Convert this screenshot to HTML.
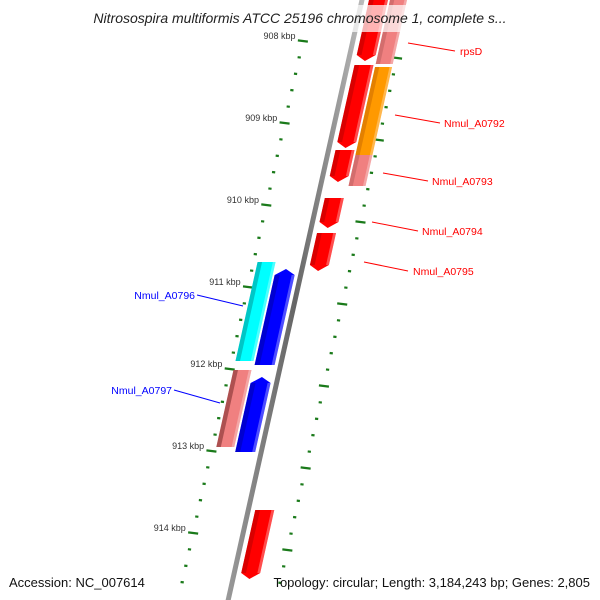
<!DOCTYPE html>
<html><head><meta charset="utf-8"><style>
html,body{margin:0;padding:0;background:#fff;}
svg{display:block;font-family:"Liberation Sans","DejaVu Sans",sans-serif;}
</style></head><body>
<svg id="c" width="600" height="600" viewBox="0 0 600 600">
<defs>
<linearGradient id="bb" x1="0" x2="1"><stop offset="0" stop-color="#999"/><stop offset="0.5" stop-color="#666"/><stop offset="1" stop-color="#bbb"/></linearGradient>
</defs>
<g id="rings"></g>
<g id="feats"></g>
<g id="labels"></g>
<rect x="60" y="5" width="480" height="27" fill="#fff" opacity="0.7"/>
<text x="300" y="23" text-anchor="middle" font-size="14" font-style="italic" fill="#222">Nitrosospira multiformis ATCC 25196 chromosome 1, complete s...</text>
<text x="9" y="587" font-size="13" fill="#111">Accession: NC_007614</text>
<text x="590" y="587" text-anchor="end" font-size="13" fill="#111">Topology: circular; Length: 3,184,243 bp; Genes: 2,805</text>
</svg>
<script>
const tickLabels=["908 kbp","909 kbp","910 kbp","911 kbp","912 kbp","913 kbp","914 kbp"];
const tickKbp=[908,909,910,911,912,913,914];
const featNames=["rpsD","Nmul_A0792","Nmul_A0793","Nmul_A0794","Nmul_A0795","Nmul_A0796","Nmul_A0797"];
const featStart=[907.6,908.33,909.3,910.0,910.37,910.85,911.95];
const featEnd=[908.3,909.3,909.71,910.32,910.77,912.05,912.97];
const NS="http://www.w3.org/2000/svg";
const svg=document.getElementById('c');
function yOf(k){return 38+(k-908)*82;}
function bx(y){return 362-0.223*y;}
function mk(tag,attrs,parent){const e=document.createElementNS(NS,tag);for(const k in attrs)e.setAttribute(k,attrs[k]);parent.appendChild(e);return e;}
const rings=document.getElementById('rings');
// backbone
const bbl=mk('line',{x1:bx(-5),y1:-5,x2:bx(605),y2:605,stroke:'url(#bb)','stroke-width':5},rings);


// tick rings
for(let i=-2;i<=40;i++){
  const k=908+i*0.2; const y=yOf(k)+3; if(y<30||y>595)continue;
  const major=(i%5===0);
  const xl=bx(y)-50; const len=major?5:1.6;
  const t=mk('line',{x1:xl-len,y1:y-len*0.12,x2:xl+len,y2:y+len*0.12,stroke:'#1a7a1a','stroke-width':2.2},rings);
  
  
  const yr=yOf(k)+20; if(yr>30&&yr<595){
  const xr=bx(yr)+48;
  const t2=mk('line',{x1:xr-len,y1:yr-len*0.12,x2:xr+len,y2:yr+len*0.12,stroke:'#1a7a1a','stroke-width':2.2},rings);
  
  }
}
tickKbp.forEach((k,i)=>{
  const y=yOf(k);
  const t=mk('text',{x:bx(y)-58,y:y+1,'text-anchor':'end','font-size':9,fill:'#333'},rings);
  t.textContent=tickLabels[i];
  
  
});
// features
const feats=document.getElementById('feats');
function feature(y1,y2,o1,o2,color,arrow,edge,name){
  const p=[];const tip=6;
  if(arrow==='down'){
    p.push([bx(y1)+o1,y1],[bx(y1)+o2,y1],[bx(y2)+o2,y2],[bx(y2+tip)+(o1+o2)/2,y2+tip],[bx(y2)+o1,y2]);
  }else if(arrow==='up'){
    p.push([bx(y1-tip)+(o1+o2)/2,y1-tip],[bx(y1)+o2,y1],[bx(y2)+o2,y2],[bx(y2)+o1,y2],[bx(y1)+o1,y1]);
  }else{
    p.push([bx(y1)+o1,y1],[bx(y1)+o2,y1],[bx(y2)+o2,y2],[bx(y2)+o1,y2]);
  }
  const g=mk('g',{},feats);
  
  
  mk('polygon',{points:p.map(q=>q.join(',')).join(' '),fill:color},g);
  // shading strip
  const w=o2-o1;
  mk('polygon',{points:[[bx(y1)+o1,y1],[bx(y1)+o1+w*0.25,y1],[bx(y2)+o1+w*0.25,y2],[bx(y2)+o1,y2]].map(q=>q.join(',')).join(' '),fill:edge,opacity:0.6},g);
  mk('polygon',{points:[[bx(y1)+o2-w*0.15,y1],[bx(y1)+o2,y1],[bx(y2)+o2,y2],[bx(y2)+o2-w*0.15,y2]].map(q=>q.join(',')).join(' '),fill:'#fff',opacity:0.3},g);
}
const RI=[7,26],RO=[28,45],LI=[-26,-6],LO=[-46,-28];
feature(-10,55,RI[0],RI[1],'#ff0000','down','#c00000','gene-rpsD');
feature(65,142,RI[0],RI[1],'#ff0000','down','#c00000','gene-nmul-a0792');
feature(150,176,RI[0],RI[1],'#ff0000','down','#c00000','gene-nmul-a0793');
feature(198,222,RI[0],RI[1],'#ff0000','down','#c00000','gene-nmul-a0794');
feature(233,265,RI[0],RI[1],'#ff0000','down','#c00000','gene-nmul-a0795');
feature(510,573,RI[0],RI[1],'#ff0000','down','#c00000','gene-bottom');
feature(-10,64,RO[0],RO[1],'#f08080','','#c06060','rna-rpsD');
feature(67,155,RO[0],RO[1],'#ff9900','','#d07000','cds-nmul-a0792');
feature(155,186,RO[0],RO[1],'#f08080','','#c06060','cds-nmul-a0793');
feature(275,365,LI[0],LI[1],'#0000ff','up','#0000b0','gene-nmul-a0796');
feature(383,452,LI[0],LI[1],'#0000ff','up','#0000b0','gene-nmul-a0797');
feature(262,361,LO[0],LO[1],'#00ffff','','#00a0a0','cds-nmul-a0796');
feature(370,447,LO[0],LO[1],'#f08080','','#803030','cds-nmul-a0797');
// labels
const labels=document.getElementById('labels');
const lab=[[408,43,455,51,460,'start','red'],[395,115,440,123,444,'start','red'],[383,173,428,181,432,'start','red'],[372,222,418,231,422,'start','red'],[364,262,408,271,413,'start','red'],[243,306,197,295,195,'end','blue'],[220,403,174,390,172,'end','blue']];
lab.forEach((l,i)=>{
  const ln=mk('line',{x1:l[0],y1:l[1],x2:l[2],y2:l[3],stroke:l[6],'stroke-width':1},labels);
  
  
  const t=mk('text',{x:l[4],y:l[3]+4,'text-anchor':l[5],'font-size':10.5,fill:l[6]},labels);
  t.textContent=featNames[i];
  
  
});
</script>
</body></html>
